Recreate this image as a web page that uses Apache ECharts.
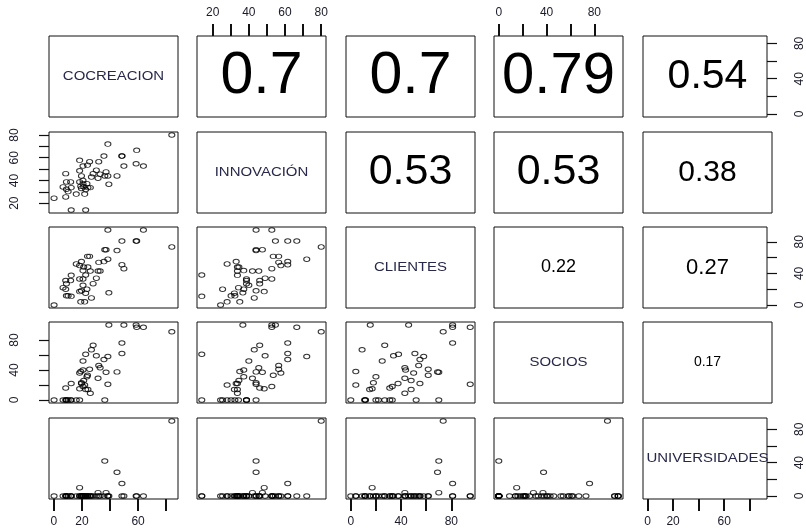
<!DOCTYPE html>
<html><head><meta charset="utf-8">
<script src="https://cdn.jsdelivr.net/npm/echarts@6/dist/echarts.min.js"></script>
<style>html,body{margin:0;padding:0;background:#fff}#c{width:806px;height:531px}</style>
</head><body><div id="c"></div>
<script>
// ---- data ----
const variableNames = ['COCREACION', 'INNOVACIÓN', 'CLIENTES', 'SOCIOS', 'UNIVERSIDADES'];
const cocreacion    = [84, 38.5, 59, 48.5, 35.7, 18.4, 25.5, 32, 58.6, 63.8, 49.9, 20.8, 24, 30.3, 37.2, 18.4, 8.5, 28, 33, 38.5, 45, 36.3, 26.8, 19.7, 31.5, 12, 9, 18.4, 20.8, 23.6, 39.2, 6.6, 12.4, 21.3, 24.3, 9, 19.7, 22.7, 26, 10.2, 16, 22, 8.5, 0.2, 12.4, 22.7, 19.2, 20.8, 48.5];
const innovacion    = [80, 72, 66.5, 61.5, 61.5, 57.7, 56.5, 56.5, 54.7, 52.7, 52.7, 52.7, 53.5, 49, 47.5, 48.5, 46, 46, 45.5, 44, 44, 44, 43, 44, 42, 38.7, 38.7, 38.7, 37.2, 37.2, 36.7, 34.3, 33.7, 34.5, 33.7, 32.3, 33, 32, 33.7, 30.2, 28, 28, 25.5, 24.4, 14, 14, 35, 40, 61.5];
const clientes      = [73.5, 58, 81, 81, 55, 50, 61.6, 54, 81, 95, 46, 33, 61.6, 34, 70, 17, 31, 27, 43, 95, 69, 70, 9, 18, 43, 31, 27, 33, 43.6, 20, 15.5, 22, 37.6, 48, 48, 11.6, 55, 15, 43, 11.6, 52, 4, 20, 0, 11, 38, 4, 25, 51];
const socios        = [91, 58, 97, 76, 54, 36, 41, 46, 100, 97, 100, 18, 33, 59, 37, 15, 16, 73, 43, 21, 37.5, 0, 67, 23, 29, 0, 0, 0, 40, 31, 100, 0, 22, 26, 14, 0, 22, 14, 9, 0, 0, 20, 0, 0, 0, 61, 38, 52, 62];
const universidades = [90, 0, 0, 15, 0, 0, 0, 0, 0, 0, 0, 0, 0, 0, 4, 10, 0, 0, 0, 0, 28.5, 42, 0, 0, 4, 0, 0, 0, 0, 0, 0, 0, 0, 0, 0, 0, 0, 0, 0, 0, 0, 0, 0, 0, 0, 0, 0, 0, 0];
const dataRanges    = [[0, 85], [14, 80], [0, 95], [0, 100], [0, 90]];
const tickValues    = [[0, 20, 40, 60, 80], [20, 30, 40, 50, 60, 70, 80], [0, 20, 40, 60, 80], [0, 20, 40, 60, 80], [0, 20, 40, 60, 80]];
const xTickLabels   = [[0, 20, 60], [20, 40, 60, 80], [0, 40, 80], [0, 40, 80], [0, 20, 60]];
const yTickLabels   = [[0, 40, 80], [20, 40, 60, 80], [0, 40, 80], [0, 40, 80], [0, 40, 80]];
// upper-triangle correlations
const corrRows   = [0, 0, 0, 0, 1, 1, 1, 2, 2, 3];
const corrCols   = [1, 2, 3, 4, 2, 3, 4, 3, 4, 4];
const corrTexts  = ['0.7', '0.7', '0.79', '0.54', '0.53', '0.53', '0.38', '0.22', '0.27', '0.17'];
const corrSizes  = [59, 59, 58, 41, 43, 43, 30, 18, 22, 14];

// ---- layout ----
const vars = [cocreacion, innovacion, clientes, socios, universidades];
const colLeft = [49, 197, 346, 494, 643];
const rowTop = [36, 132, 227, 322, 418];
const W = 129, H = 81;
const FONT = '"Liberation Sans", Arial, sans-serif';
const ext = r => { const d = r[1] - r[0]; return [r[0] - 0.04 * d, r[1] + 0.04 * d]; };
const lineCol = '#111';

const grids = [], xAxes = [], yAxes = [], series = [], graphics = [];
for (let i = 0; i < 5; i++) {
  for (let j = 0; j < 5; j++) {
    const k = i * 5 + j;
    grids.push({ left: colLeft[j], top: rowTop[i], width: W, height: H, show: true,
      borderColor: lineCol, borderWidth: 1, backgroundColor: 'transparent' });
    const xr = ext(dataRanges[j]), yr = ext(dataRanges[i]);
    const showTop = (i === 0 && j % 2 === 1), showBottom = (i === 4 && j % 2 === 0);
    const showX = showTop || showBottom;
    xAxes.push({ type: 'value', gridIndex: k, min: xr[0], max: xr[1],
      position: showTop ? 'top' : 'bottom',
      splitLine: { show: false },
      axisLine: { show: false, onZero: false },
      axisTick: { show: showX, customValues: tickValues[j], length: 12, lineStyle: { color: lineCol, width: 2 } },
      axisLabel: { show: showX, customValues: xTickLabels[j], margin: 17,
        color: '#1a1a2a', fontSize: 12, fontFamily: FONT } });
    const showLeft = (j === 0 && i % 2 === 1), showRight = (j === 4 && i % 2 === 0);
    const showY = showLeft || showRight;
    yAxes.push({ type: 'value', gridIndex: k, min: yr[0], max: yr[1],
      position: showLeft ? 'left' : 'right',
      splitLine: { show: false },
      axisLine: { show: false, onZero: false },
      axisTick: { show: showY, customValues: tickValues[i], length: 10, lineStyle: { color: lineCol, width: 1.2 } },
      axisLabel: { show: showY, customValues: yTickLabels[i], rotate: 90, margin: showLeft ? 28 : 27,
        color: '#1a1a2a', fontSize: 12, fontFamily: FONT } });
    if (i > j) {
      series.push({ type: 'scatter', xAxisIndex: k, yAxisIndex: k, clip: false,
        symbol: 'circle', symbolSize: [6, 4.6], silent: true,
        itemStyle: { color: 'rgba(0,0,0,0)', borderColor: '#000', borderWidth: 1 },
        data: vars[j].map((v, n) => [v, vars[i][n]]) });
    }
    if (i === j) {
      graphics.push({ type: 'text', x: colLeft[j] + W / 2, y: rowTop[i] + H / 2, scaleX: 1.15,
        style: { text: variableNames[i], fontSize: 13, fontFamily: FONT, fill: '#27284a',
          align: 'center', verticalAlign: 'middle' } });
    }
  }
}
corrTexts.forEach((t, n) => {
  const i = corrRows[n], j = corrCols[n];
  graphics.push({ type: 'text', x: colLeft[j] + W / 2, y: rowTop[i] + H / 2,
    style: { text: t, fontSize: corrSizes[n], fontFamily: FONT, fill: '#000',
      align: 'center', verticalAlign: 'middle' } });
});

const chart = echarts.init(document.getElementById('c'), null, { renderer: 'canvas' });
chart.setOption({ animation: false, backgroundColor: '#fff', grid: grids, xAxis: xAxes, yAxis: yAxes,
  series: series, graphic: graphics });
</script></body></html>
